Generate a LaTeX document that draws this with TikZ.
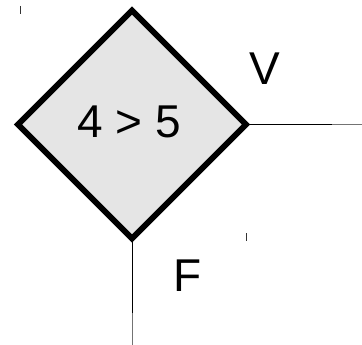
\documentclass[tikz,border=0pt]{standalone}
\usepackage{fontspec}
\setmainfont{Liberation Sans}
\usetikzlibrary{shapes.geometric}
\begin{document}
\begin{tikzpicture}[x=1pt,y=-1pt,
  cond/.style={diamond,draw=black,fill=black!10,line width=6pt,miter limit=10,
    minimum width=228pt,minimum height=228pt,inner sep=0pt,outer sep=0pt},
  lbl/.style={inner sep=0pt,font=\fontsize{46}{55}\selectfont},
  conn/.style={line width=1pt,draw=black},
  fade/.style={line width=1pt,draw=black!55},
  tick/.style={line width=1pt,draw=black!80}]
\useasboundingbox (0,0) rectangle (362,345);
\node[cond] (d) at (132,124.5) {};
\node[lbl] (t) at (129,122) {4 > 5};
\node[lbl] (v) at (265,69) {V};
\node[lbl] (f) at (187.5,275.5) {F};
\coordinate (r1) at (332,124.5);
\coordinate (r2) at (362,124.5);
\coordinate (b1) at (132,313);
\coordinate (b2) at (132,345);
\draw[conn] (d.east) -- (r1);
\draw[fade] (r1) -- (r2);
\draw[conn] (d.south) -- (b1);
\draw[fade] (b1) -- (b2);
\coordinate (k1) at (20,6);
\coordinate (k2) at (20,14);
\coordinate (k3) at (246,233);
\coordinate (k4) at (246,241);
\draw[tick] (k1) -- (k2);
\draw[tick] (k3) -- (k4);
\end{tikzpicture}
\end{document}
